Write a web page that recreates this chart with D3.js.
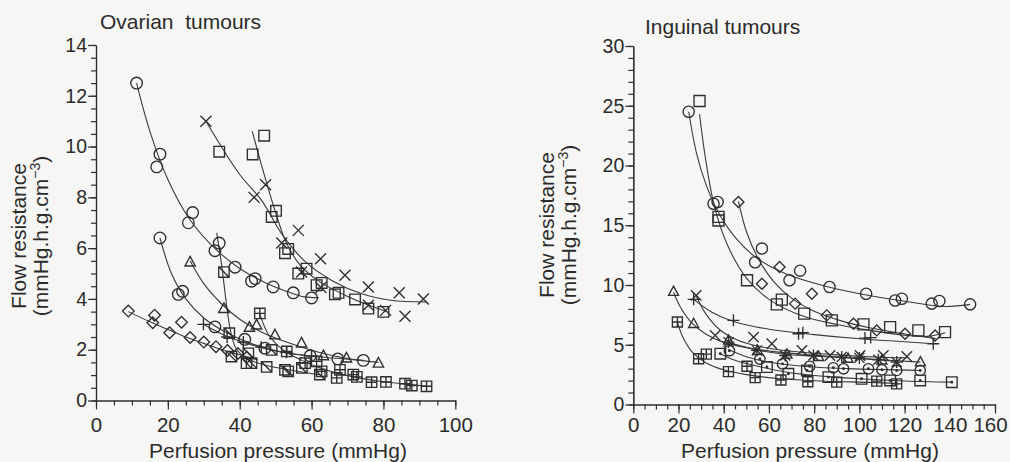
<!DOCTYPE html>
<html><head><meta charset="utf-8">
<script src="https://cdn.jsdelivr.net/npm/d3@7"></script>
<style>
body{margin:0;background:#f6f6f4}
svg{display:block}
text{font-family:"Liberation Sans",Arial,Helvetica,sans-serif;fill:#2b2b2b}
</style>
</head><body>
<svg id="c" width="1010" height="462"></svg>
<script>
// ---------------- Ovarian tumours (left panel) ----------------
const ovXTicks = [0, 20, 40, 60, 80, 100];
const ovYTicks = [0, 2, 4, 6, 8, 10, 12, 14];
const ovCircA = [[11.3,12.5],[16.9,9.2],[17.8,9.7],[25.7,7.0],[26.9,7.4],[33.1,5.9],[34.3,6.2],[38.7,5.25],[43.3,4.7],[44.3,4.8],[49.3,4.47],[54.9,4.24],[60,4.04]];
const ovCircAFit = [[11.3,12.5],[15,10.6],[20,8.7],[26,7.15],[33,6.0],[40,5.2],[47,4.65],[54,4.25],[58,4.08],[62,4.05]];
const ovCrossA = [[30.6,11.0],[44.0,8.0],[47.2,8.5],[51.7,6.2],[56.3,6.7],[57.2,5.06],[62.5,5.58],[62.6,4.45],[69.3,4.93],[75.8,4.47],[75.8,3.75],[80.6,3.55],[84.4,4.24],[86,3.32],[91.1,4.0]];
const ovCrossAFit = [[30.6,11.0],[40,8.9],[46,7.9],[52,6.5],[58,5.5],[66,4.7],[74,4.2],[82,3.95],[92,3.88]];
const ovSquareA = [[34.3,9.8],[43.6,9.69],[46.8,10.43],[48.9,7.23],[50.1,7.47],[52.6,5.8],[53.5,5.97],[56.3,5.0],[58.6,5.19],[61.4,4.54],[62.8,4.63],[66.5,4.18],[67.5,4.24],[72.1,3.98],[75.8,3.62],[80.0,3.49]];
const ovSquareAFit = [[43.5,10.6],[46,9.3],[50,7.4],[53,6.2],[57,5.3],[62,4.7],[70,4.1],[76,3.75],[81,3.5]];
const ovCircB = [[17.8,6.4],[22.9,4.18],[24.1,4.3],[33.1,2.9],[41.4,2.41],[47,2.06],[59.6,1.76],[67.3,1.64],[74.4,1.58]];
const ovCircBFit = [[17.8,6.4],[21,5.0],[25,4.0],[30,3.25],[36,2.7],[44,2.2],[52,1.9],[62,1.72],[74.4,1.58]];
const ovTriA = [[26.2,5.45],[35.6,3.62],[42.7,2.88],[44.7,2.97],[49.8,2.58],[57.2,2.26],[63.3,1.76],[69.7,1.67],[78.6,1.47]];
const ovTriAFit = [[26.2,5.5],[30,4.6],[35,3.8],[40,3.2],[46,2.7],[53,2.3],[62,1.9],[70,1.65],[78.6,1.5]];
const ovDiam = [[9,3.52],[15.8,3.06],[16.3,3.36],[20.5,2.67],[23.8,3.08],[26.2,2.48],[30,2.3],[33.4,2.12],[36.6,1.97],[39.5,1.85],[42,1.7]];
const ovDiamFit = [[9,3.5],[15,3.1],[20,2.8],[25,2.5],[30,2.25],[35,2.0],[40,1.8],[45,1.6]];
const ovPlus = [[29.9,3.0],[36.5,2.5],[41,2.3],[46,2.1],[53,1.9],[60,1.75]];
const ovPlusFit = [[29.9,3.0],[36,2.55],[42,2.25],[50,1.95],[60,1.75]];
const ovGrid = [[45.6,3.43],[53.1,1.93],[58.2,1.47],[61.4,1.54],[62.8,1.15],[67,0.89],[67.9,1.21],[71.6,1.02],[72.6,0.93],[76.7,0.72],[80.7,0.73],[86,0.66],[87.9,0.59],[92,0.56]];
const ovGridFit = [[45.6,3.4],[48,2.6],[52,2.0],[57,1.6],[63,1.25],[70,0.98],[78,0.78],[86,0.65],[92,0.56]];
const ovSqD = [[35.6,5.06],[37.1,2.65],[37.7,1.73],[41.9,1.47],[42.4,1.86],[43.3,1.47],[47.5,1.32],[48.9,1.99],[52.6,1.21],[53.5,1.15],[57.3,1.28],[62.3,1.02]];
const ovSqDFit = [[33.6,6.6],[35,5.3],[36.3,3.8],[37.5,2.7],[39,2.05],[42,1.65],[47,1.4],[54,1.2],[62,1.02]];

// ---------------- Inguinal tumours (right panel) ----------------
const inXTicks = [0, 20, 40, 60, 80, 100, 120, 140, 160];
const inYTicks = [0, 5, 10, 15, 20, 25, 30];
const inCircA = [[24.5,24.5],[35.5,16.8],[37.3,16.95],[53.9,11.9],[56.9,13.05],[69.1,10.4],[73.8,11.2],[86.8,9.83],[103,9.27],[115.8,8.7],[118.8,8.85],[132,8.44],[135.4,8.66],[149,8.38]];
const inCircAFit = [[24.5,24.5],[28,21],[32,18.5],[37,16.3],[45,14.0],[55,12.2],[68,10.9],[85,9.9],[105,9.1],[125,8.5],[138,8.2],[149,8.38]];
const inSqA = [[29.3,25.4],[37.7,15.4],[37.7,15.7],[50.3,10.4],[63.5,8.38],[65.7,8.77],[75.6,7.6],[87.8,7.04],[101.8,6.7],[113.6,6.48],[126.1,6.2],[137.9,6.06]];
const inSqAFit = [[29.3,24.3],[32,20.5],[36,16.5],[42,13.2],[50,10.6],[60,8.8],[75,7.4],[90,6.7],[105,6.2],[120,5.8],[130,5.7],[138,6.0]];
const inDiam = [[46.5,16.95],[56.9,10.1],[64.7,11.5],[71.6,8.44],[79,9.27],[85.6,7.46],[97.4,6.76],[107.7,6.2],[120.2,5.92],[133.5,5.78]];
const inDiamFit = [[46.5,17],[50,14.5],[55,12.3],[62,10.3],[70,8.9],[80,7.8],[92,7.0],[105,6.4],[120,5.9],[134,5.5]];
const inCrossA = [[27.8,9.13],[36.2,5.78],[53.2,5.64],[61.3,5.08],[74.6,4.53],[87,4.1],[100.3,4.1],[110.6,4.1],[121,4.02]];
const inCrossAFit = [[27.8,9.1],[32,7.6],[38,6.3],[46,5.4],[56,4.85],[70,4.45],[90,4.15],[110,3.95],[121,3.9]];
const inPlus = [[26.7,8.8],[44.3,7.04],[73.1,5.92],[75,6.0],[102.5,5.56],[105,5.6],[132.7,5.08]];
const inPlusFit = [[26.7,8.8],[35,7.7],[45,6.9],[60,6.3],[80,5.85],[100,5.5],[120,5.25],[133,5.08]];
const inTri = [[17.8,9.45],[26.7,6.76],[42.1,5.36],[55,4.5],[68,4.2],[82,4.0],[95,3.85],[110,3.7],[127,3.55]];
const inTriFit = [[17.8,9.4],[21,8.1],[26,6.8],[32,5.9],[40,5.2],[55,4.6],[75,4.2],[100,3.85],[127,3.55]];
const inGrid = [[19.5,6.9],[28.9,3.83],[32.3,4.22],[42.1,2.75],[50.3,3.2],[53.9,2.25],[65.3,2.05],[77.2,1.9],[90,1.87],[107.7,1.95],[116.5,1.73]];
const inGridFit = [[19.5,6.9],[22,5.6],[26,4.4],[32,3.5],[40,2.9],[50,2.5],[65,2.15],[85,1.95],[105,1.85],[117,1.75]];
const inSqDot = [[38.5,4.25],[59.1,3.13],[68.6,2.57],[76.8,2.85],[86.3,2.29],[101,2.15],[113.6,2.01],[126.9,2.01],[140.9,1.87]];
const inSqDotFit = [[38.5,4.25],[45,3.7],[55,3.2],[68,2.7],[85,2.35],[100,2.15],[120,1.97],[141,1.87]];
const inCircB = [[42.5,4.5],[56,3.8],[66,3.4],[78,3.2],[88.5,3.07],[93,2.99],[104,2.99],[110,2.9],[116.5,2.85],[126.9,2.85]];
const inCircBFit = [[42,4.6],[50,4.0],[60,3.55],[75,3.2],[95,3.0],[127,2.85]];
const inStar = [[42.1,5.22],[54.7,4.53],[67.2,4.1],[79.7,4.1],[92.2,3.97],[100,3.9],[108.4,3.74],[116.5,3.55]];
const inStarFit = [[42,5.2],[55,4.55],[67,4.2],[80,4.05],[95,3.9],[108,3.75],[117,3.6]];

// ---------------- drawing ----------------
const svg = d3.select("#c");
svg.append("rect").attr("width", 1010).attr("height", 462).attr("fill", "#f6f6f4");
const INK = "#2e2e2e";
const FONT = '"Liberation Sans", Arial, sans-serif';

function symPath(type, s) {
  const h = s;
  const sq = `M${-h},${-h}H${h}V${h}H${-h}Z`;
  const circ = r => `M${-r},0A${r},${r} 0 1,0 ${r},0A${r},${r} 0 1,0 ${-r},0Z`;
  const dot = `M-0.8,0A0.8,0.8 0 1,0 0.8,0A0.8,0.8 0 1,0 -0.8,0Z`;
  switch (type) {
    case "circle": return circ(h);
    case "circdot": return circ(h) + dot;
    case "square": return sq;
    case "sqdot": return sq + dot;
    case "sqd": return sq + `M${-h},${-h}L${h},${h}`;
    case "grid": return sq + `M${-h},0H${h}M0,${-h}V${h}`;
    case "tri": return `M0,${-h * 1.1}L${h},${h * 0.75}L${-h},${h * 0.75}Z`;
    case "diamond": return `M0,${-h}L${h},0L0,${h}L${-h},0Z`;
    case "cross": return `M${-h},${-h}L${h},${h}M${-h},${h}L${h},${-h}`;
    case "plus": return `M${-h},0H${h}M0,${-h}V${h}`;
    case "star": return `M${-h},${-h}L${h},${h}M${-h},${h}L${h},${-h}M${-h * 1.2},0H${h * 1.2}M0,${-h * 1.2}V${h * 1.2}`;
  }
}

function panel(cfg) {
  const x = d3.scaleLinear().domain(cfg.xDom).range(cfg.xRange);
  const y = d3.scaleLinear().domain(cfg.yDom).range(cfg.yRange);
  const g = svg.append("g");

  const xMinor = d3.range(cfg.xDom[0], cfg.xDom[1] + 0.001, cfg.xMinorStep);
  const yMinor = d3.range(cfg.yDom[0], cfg.yDom[1] + 0.001, cfg.yMinorStep);
  const gxm = g.append("g").attr("transform", `translate(0,${cfg.yRange[0]})`)
    .call(d3.axisBottom(x).tickValues(xMinor).tickSize(5).tickSizeOuter(0).tickFormat(""));
  const gym = g.append("g").attr("transform", `translate(${cfg.xRange[0]},0)`)
    .call(d3.axisLeft(y).tickValues(yMinor).tickSize(5).tickSizeOuter(0).tickFormat(""));
  const gx = g.append("g").attr("transform", `translate(0,${cfg.yRange[0]})`)
    .call(d3.axisBottom(x).tickValues(cfg.xTicks).tickSize(9).tickSizeOuter(0));
  const gy = g.append("g").attr("transform", `translate(${cfg.xRange[0]},0)`)
    .call(d3.axisLeft(y).tickValues(cfg.yTicks).tickSize(8).tickSizeOuter(0));
  [gxm, gym, gx, gy].forEach(a => {
    a.selectAll("path,line").attr("stroke", INK).attr("stroke-width", 1.2);
  });
  gx.selectAll("text").attr("y", cfg.xLabelY).attr("dy", 0).attr("font-size", 20.5).attr("fill", INK)
    .style("font-family", FONT)
    .attr("dx", (d, i, n) => i === n.length - 1 && cfg.lastShift ? cfg.lastShift : 0);
  gy.selectAll("text").attr("x", -9).attr("font-size", 19.5).attr("fill", INK)
    .style("font-family", FONT);

  g.append("text").attr("x", cfg.titleX).attr("y", cfg.titleY).attr("font-size", 21)
    .style("white-space", "pre").text(cfg.title);
  g.append("text").attr("x", cfg.xTitleX).attr("y", 457.5).attr("font-size", 21)
    .attr("text-anchor", "middle").text("Perfusion pressure (mmHg)");
  const yt = g.append("g").attr("transform", `translate(${cfg.yTitleX},${cfg.yTitleY}) rotate(-90)`);
  yt.append("text").attr("x", 0).attr("y", 0).attr("font-size", 21).attr("text-anchor", "middle")
    .text("Flow resistance");
  const t2 = yt.append("text").attr("x", 0).attr("y", 22).attr("font-size", 21).attr("text-anchor", "middle");
  t2.append("tspan").text("(mmHg.h.g.cm");
  t2.append("tspan").attr("dy", -8).attr("font-size", 14).text("\u22123");
  t2.append("tspan").attr("dy", 8).text(")");

  const line = d3.line().x(d => x(d[0])).y(d => y(d[1])).curve(d3.curveCatmullRom.alpha(0.5));
  const lg = g.append("g");
  const mg = g.append("g");
  cfg.series.forEach(s => {
    lg.append("path").attr("d", line(s.fit)).attr("fill", "none")
      .attr("stroke", "#3a3a3a").attr("stroke-width", 1.1);
    mg.selectAll(null).data(s.pts).join("path")
      .attr("transform", d => `translate(${x(d[0])},${y(d[1])})`)
      .attr("d", symPath(s.sym, s.size))
      .attr("fill", "none").attr("stroke", INK).attr("stroke-width", 1.35);
  });
}

panel({
  xDom: [0, 100], xRange: [96, 455.3], yDom: [0, 14], yRange: [400.5, 45],
  xTicks: ovXTicks, yTicks: ovYTicks, xMinorStep: 5, yMinorStep: 0.5, xLabelY: 31,
  title: "Ovarian  tumours", titleX: 100, titleY: 29, xTitleX: 278,
  yTitleX: 26, yTitleY: 236,
  series: [
    {pts: ovCircA, fit: ovCircAFit, sym: "circle", size: 5.8},
    {pts: ovCrossA, fit: ovCrossAFit, sym: "cross", size: 5.5},
    {pts: ovSquareA, fit: ovSquareAFit, sym: "square", size: 5.3},
    {pts: ovCircB, fit: ovCircBFit, sym: "circle", size: 5.8},
    {pts: ovTriA, fit: ovTriAFit, sym: "tri", size: 5.2},
    {pts: ovDiam, fit: ovDiamFit, sym: "diamond", size: 5.8},
    {pts: ovPlus, fit: ovPlusFit, sym: "plus", size: 6},
    {pts: ovGrid, fit: ovGridFit, sym: "grid", size: 5.2},
    {pts: ovSqD, fit: ovSqDFit, sym: "sqd", size: 5.2}
  ]
});

panel({
  xDom: [0, 160], xRange: [633.3, 995], yDom: [0, 30], yRange: [404.5, 46],
  xTicks: inXTicks, yTicks: inYTicks, xMinorStep: 5, yMinorStep: 1, lastShift: -5, xLabelY: 27.5,
  title: "Inguinal tumours", titleX: 645, titleY: 34, xTitleX: 810,
  yTitleX: 554, yTitleY: 225,
  series: [
    {pts: inCircA, fit: inCircAFit, sym: "circle", size: 5.6},
    {pts: inSqA, fit: inSqAFit, sym: "square", size: 5.5},
    {pts: inDiam, fit: inDiamFit, sym: "diamond", size: 5.5},
    {pts: inCrossA, fit: inCrossAFit, sym: "cross", size: 5.2},
    {pts: inPlus, fit: inPlusFit, sym: "plus", size: 6},
    {pts: inTri, fit: inTriFit, sym: "tri", size: 5},
    {pts: inGrid, fit: inGridFit, sym: "grid", size: 5},
    {pts: inSqDot, fit: inSqDotFit, sym: "sqdot", size: 5.3},
    {pts: inCircB, fit: inCircBFit, sym: "circdot", size: 5.2},
    {pts: inStar, fit: inStarFit, sym: "star", size: 5}
  ]
});
</script>
</body></html>
